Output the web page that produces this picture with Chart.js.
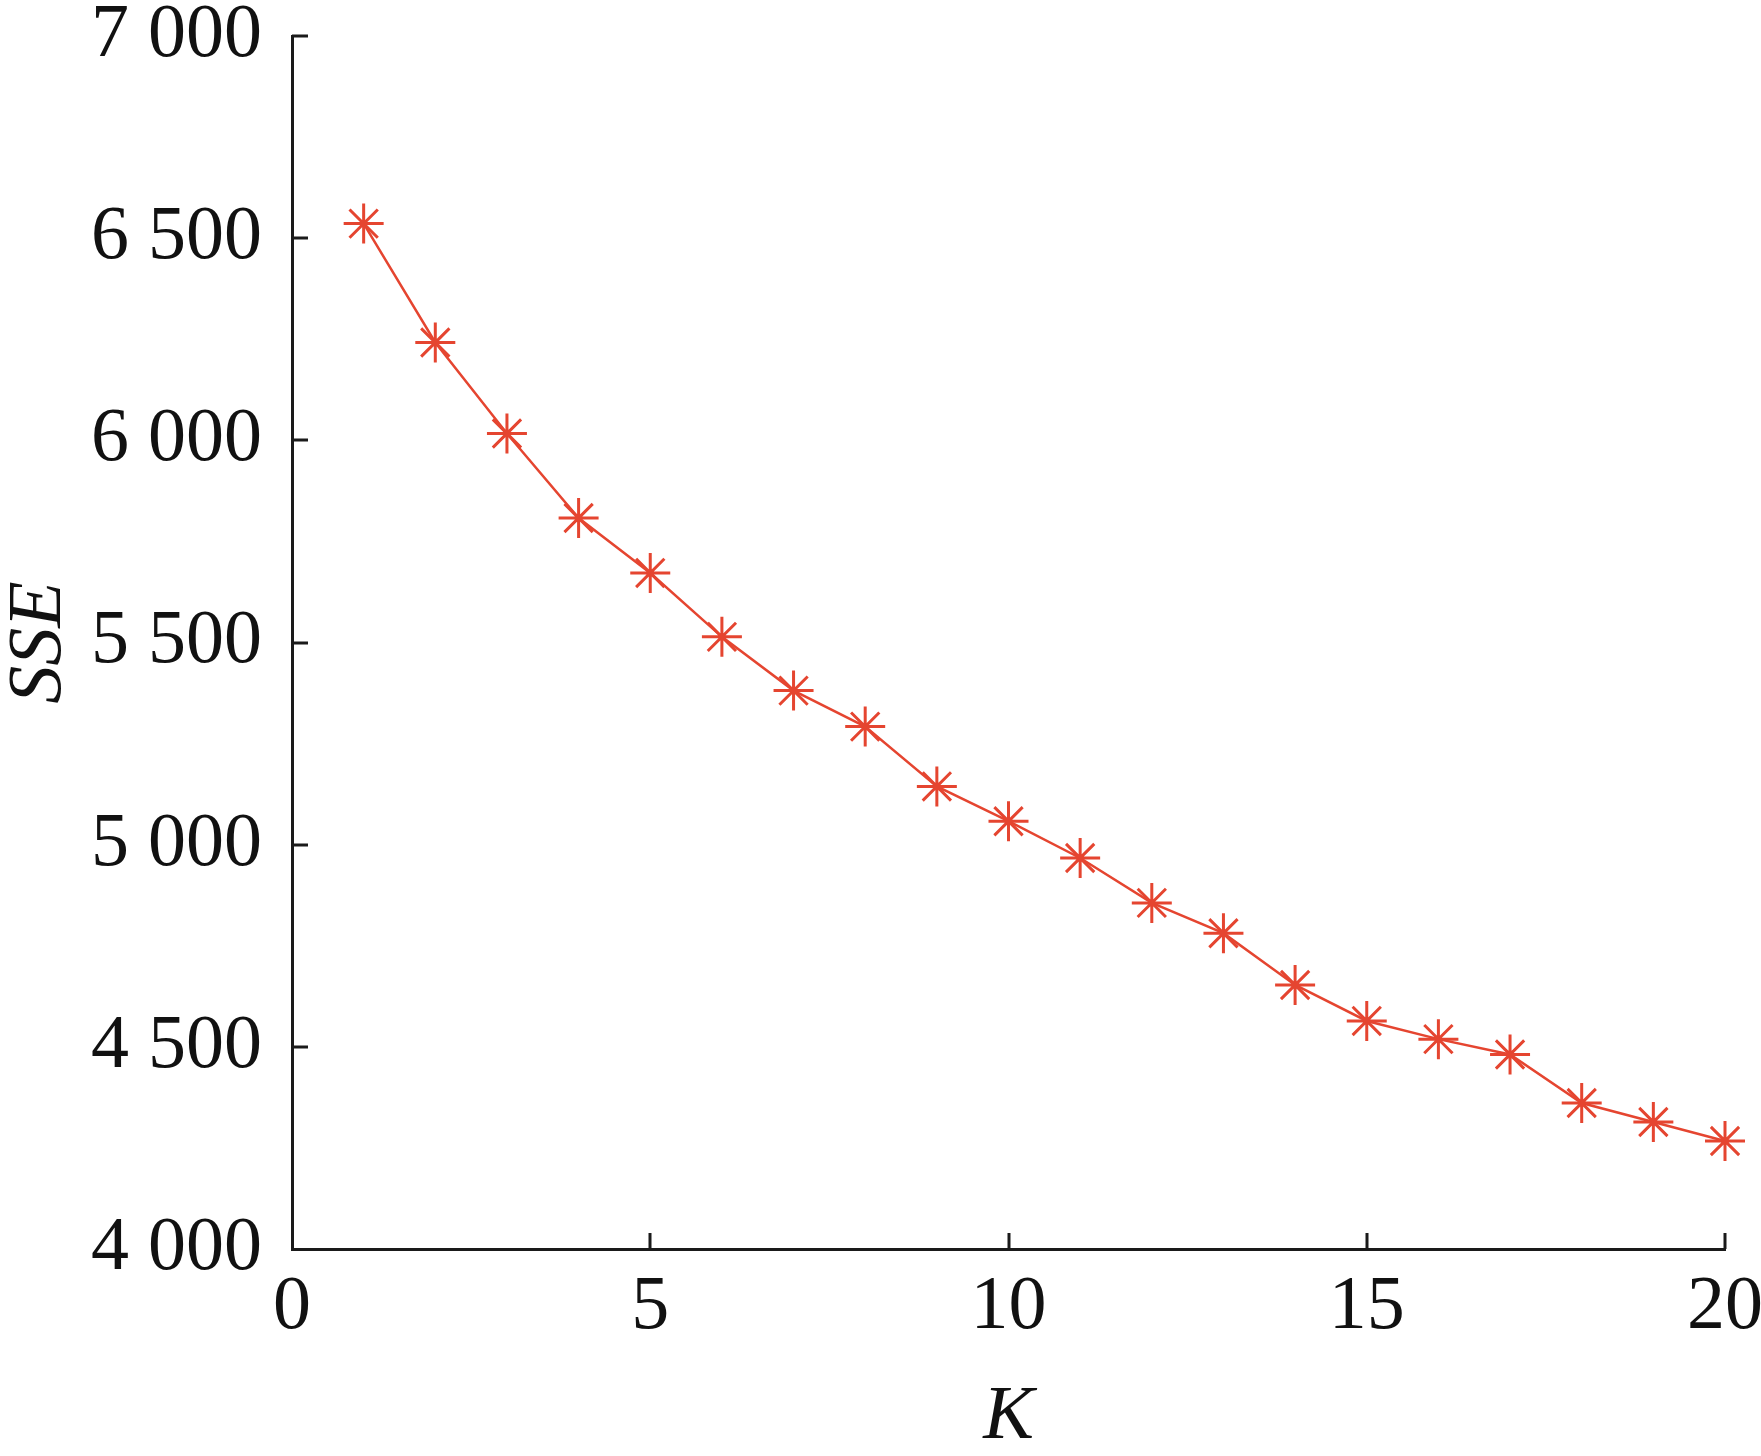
<!DOCTYPE html>
<html>
<head>
<meta charset="utf-8">
<script src="https://cdn.jsdelivr.net/npm/chart.js@4/dist/chart.umd.min.js"></script>
<style>
  html, body { margin: 0; padding: 0; background: #fff; }
  #wrap { width: 1761px; height: 1456px; position: relative; }
</style>
</head>
<body>
<div id="wrap"><canvas id="sseChart"></canvas></div>
<script>
// K values (number of clusters) and SSE
const kValues = [1, 2, 3, 4, 5, 6, 7, 8, 9, 10, 11, 12, 13, 14, 15, 16, 17, 18, 19, 20];
const sseValues = [6536, 6242, 6017, 5808, 5672, 5514, 5381, 5292, 5144, 5058,
                   4967, 4856, 4781, 4653, 4564, 4519, 4481, 4361, 4314, 4267];

const xTicks = [0, 5, 10, 15, 20];
const yTicks = [4000, 4500, 5000, 5500, 6000, 6500, 7000];
const yTickLabels = ["4 000", "4 500", "5 000", "5 500", "6 000", "6 500", "7 000"];

const LINE_COLOR = "rgb(229, 69, 48)";
const AXIS_COLOR = "#1a1a1a";
const SERIF = "'Liberation Serif', 'Times New Roman', serif";

// ticks drawn inside the plot area, like the original figure
const inwardTicks = {
  id: "inwardTicks",
  afterDraw(chart) {
    const { ctx, chartArea, scales } = chart;
    ctx.save();
    ctx.strokeStyle = AXIS_COLOR;
    ctx.lineWidth = 3;
    ctx.beginPath();
    scales.y.ticks.forEach((t) => {
      if (t.value === yTicks[0]) return;
      const y = Math.round(scales.y.getPixelForValue(t.value));
      ctx.moveTo(chartArea.left, y);
      ctx.lineTo(chartArea.left + 16, y);
    });
    scales.x.ticks.forEach((t) => {
      if (t.value === xTicks[0]) return;
      const x = Math.round(scales.x.getPixelForValue(t.value));
      ctx.moveTo(x, chartArea.bottom);
      ctx.lineTo(x, chartArea.bottom - 16);
    });
    ctx.stroke();
    ctx.restore();
  },
};

const ctx = document.getElementById("sseChart").getContext("2d");
new Chart(ctx, {
  type: "line",
  data: {
    datasets: [
      {
        label: "SSE",
        data: kValues.map((k, i) => ({ x: k, y: sseValues[i] })),
        borderColor: LINE_COLOR,
        borderWidth: 2.5,
        pointStyle: "star",
        pointRadius: 20,
        pointBorderWidth: 3,
        pointBorderColor: LINE_COLOR,
        pointBackgroundColor: LINE_COLOR,
        tension: 0,
        fill: false,
        clip: false,
      },
    ],
  },
  options: {
    responsive: true,
    maintainAspectRatio: false,
    animation: false,
    layout: { padding: { top: 36, right: 36, bottom: 0, left: 0 } },
    plugins: {
      legend: { display: false },
      tooltip: { enabled: false },
    },
    scales: {
      x: {
        type: "linear",
        min: xTicks[0],
        max: xTicks[xTicks.length - 1],
        afterBuildTicks: (scale) => {
          scale.ticks = xTicks.map((v) => ({ value: v }));
        },
        afterFit: (scale) => {
          scale.height = 207;
          scale.paddingLeft = 0;
          scale.paddingRight = 0;
        },
        grid: { display: false, drawTicks: false },
        border: { display: true, color: AXIS_COLOR, width: 3 },
        ticks: {
          color: "#111",
          padding: 21,
          maxRotation: 0,
          font: { family: SERIF, size: 76, lineHeight: 1 },
        },
        title: {
          display: true,
          text: "K",
          color: "#111",
          padding: { top: 85, bottom: 0 },
          font: { family: SERIF, size: 76, style: "italic", lineHeight: 1 },
        },
      },
      y: {
        type: "linear",
        min: yTicks[0],
        max: yTicks[yTicks.length - 1],
        afterBuildTicks: (scale) => {
          scale.ticks = yTicks.map((v) => ({ value: v }));
        },
        afterFit: (scale) => {
          scale.width = 292;
          scale.paddingTop = 0;
          scale.paddingBottom = 0;
        },
        grid: { display: false, drawTicks: false },
        border: { display: true, color: AXIS_COLOR, width: 3 },
        ticks: {
          color: "#111",
          padding: 30,
          callback: (value) => yTickLabels[yTicks.indexOf(value)],
          font: { family: SERIF, size: 76, lineHeight: 0.9 },
        },
        title: {
          display: true,
          text: "SSE",
          color: "#111",
          padding: { top: 2, bottom: 0 },
          font: { family: SERIF, size: 76, style: "italic", lineHeight: 1 },
        },
      },
    },
  },
  plugins: [inwardTicks],
});
</script>
</body>
</html>
